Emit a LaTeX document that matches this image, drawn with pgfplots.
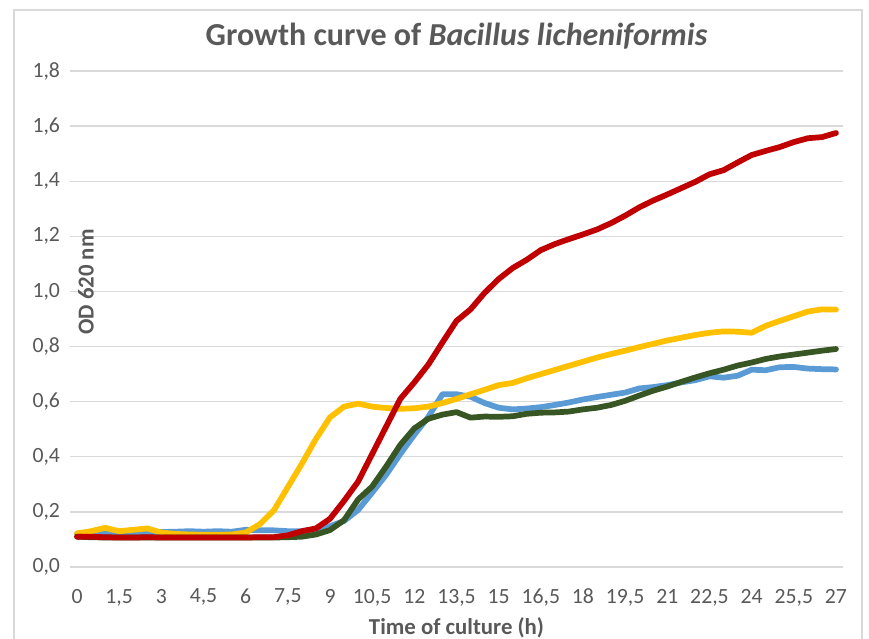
\documentclass[border=0pt]{standalone}
\usepackage{pgfplots}
\pgfplotsset{compat=1.18}
\usepackage{pgfplotstable}
\usepackage{fontspec}
\setmainfont{Carlito}
\definecolor{txt}{HTML}{595959}
\definecolor{gridc}{HTML}{D9D9D9}
\definecolor{sblue}{HTML}{5B9BD5}
\definecolor{syellow}{HTML}{FFC000}
\definecolor{sgreen}{HTML}{375623}
\definecolor{sred}{HTML}{C00000}

\pgfplotstableread{
t    b      y      g      r
0    0.120  0.122  0.110  0.110
0.5  0.125  0.130  0.108  0.110
1    0.125  0.142  0.107  0.108
1.5  0.125  0.130  0.107  0.107
2    0.125  0.135  0.107  0.107
2.5  0.127  0.140  0.107  0.108
3    0.127  0.125  0.107  0.107
3.5  0.128  0.120  0.107  0.107
4    0.130  0.118  0.107  0.107
4.5  0.128  0.117  0.107  0.107
5    0.130  0.117  0.107  0.107
5.5  0.128  0.118  0.107  0.107
6    0.135  0.125  0.107  0.107
6.5  0.133  0.155  0.107  0.108
7    0.133  0.205  0.107  0.108
7.5  0.130  0.290  0.108  0.115
8    0.130  0.375  0.110  0.130
8.5  0.138  0.465  0.118  0.140
9    0.148  0.543  0.134  0.175
9.5  0.167  0.582  0.170  0.240
10   0.207  0.593  0.245  0.310
10.5 0.270  0.582  0.292  0.410
11   0.335  0.577  0.365  0.510
11.5 0.410  0.574  0.443  0.610
12   0.480  0.576  0.503  0.670
12.5 0.545  0.582  0.538  0.735
13   0.627  0.595  0.553  0.815
13.5 0.627  0.610  0.562  0.893
14   0.618  0.627  0.542  0.935
14.5 0.595  0.643  0.546  0.995
15   0.578  0.660  0.545  1.045
15.5 0.572  0.668  0.547  1.085
16   0.575  0.685  0.556  1.115
16.5 0.580  0.700  0.560  1.150
17   0.588  0.715  0.561  1.172
17.5 0.597  0.730  0.564  1.190
18   0.608  0.745  0.572  1.207
18.5 0.617  0.760  0.578  1.225
19   0.625  0.773  0.588  1.248
19.5 0.633  0.785  0.603  1.275
20   0.648  0.798  0.622  1.305
20.5 0.653  0.810  0.640  1.330
21   0.660  0.822  0.655  1.352
21.5 0.670  0.832  0.672  1.375
22   0.678  0.842  0.688  1.398
22.5 0.692  0.850  0.703  1.425
23   0.687  0.855  0.716  1.440
23.5 0.694  0.854  0.731  1.468
24   0.716  0.850  0.742  1.495
24.5 0.714  0.875  0.755  1.510
25   0.725  0.893  0.764  1.524
25.5 0.726  0.910  0.771  1.542
26   0.720  0.927  0.778  1.556
26.5 0.718  0.935  0.785  1.560
27   0.717  0.934  0.791  1.575
}\datatable

\begin{document}
\begin{tikzpicture}
\useasboundingbox (-52.5pt,-54pt) rectangle (599.25pt,425.25pt);
\draw[gridc, line width=0.8pt] (-42pt,-54pt) -- (-42pt,417.75pt) -- (594pt,417.75pt) -- (594pt,-54pt);
\begin{axis}[
  scale only axis,
  width=579.75pt, height=372pt,
  at={(0pt,0pt)}, anchor=south west,
  xmin=-0.25, xmax=27.25,
  ymin=0, ymax=1.8,
  xtick={0,1.5,...,27},
  ytick={0,0.2,...,1.8},
  axis line style={draw=none},
  major tick length=0pt,
  xmajorgrids=false,
  ymajorgrids=true,
  major grid style={draw=gridc, line width=1pt},
  tick label style={font=\fontsize{16.3}{19}\selectfont, text=txt},
  /pgf/number format/assume math mode=true,
  xticklabel style={/pgf/number format/.cd, use comma, fixed, precision=1, /tikz/.cd, yshift=-13pt},
  yticklabel style={/pgf/number format/.cd, use comma, fixed, fixed zerofill, precision=1, /tikz/.cd, xshift=-4pt},
  every axis plot/.append style={line width=4.3pt, line join=round, line cap=round, mark=none},
  clip=false,
]
\addplot[sblue]   table[x=t, y=b] {\datatable};
\addplot[syellow] table[x=t, y=y] {\datatable};
\addplot[sgreen]  table[x=t, y=g] {\datatable};
\addplot[sred]    table[x=t, y=r] {\datatable};
\end{axis}
\node[text=txt, font=\fontsize{24}{28}\selectfont\bfseries] at (289.9pt,398.25pt) {Growth curve of \textit{Bacillus licheniformis}};
\node[text=txt, font=\fontsize{17.1}{20}\selectfont\bfseries] at (289.9pt,-45.75pt) {Time of culture (h)};
\node[text=txt, font=\fontsize{17.1}{20}\selectfont\bfseries, rotate=90] at (12pt,213.75pt) {OD 620 nm};
\end{tikzpicture}
\end{document}
